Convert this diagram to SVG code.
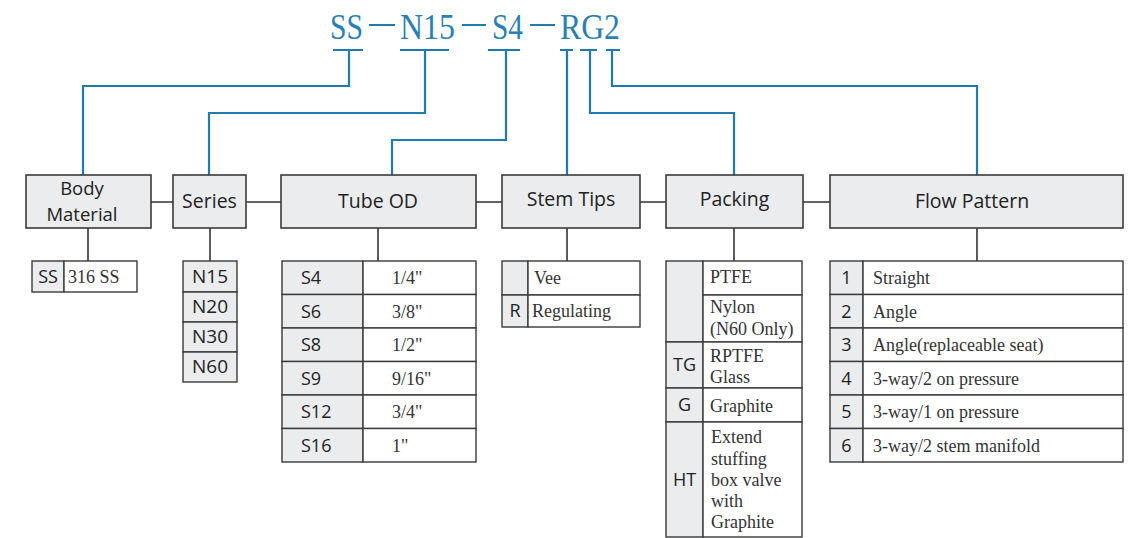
<svg xmlns="http://www.w3.org/2000/svg" width="1128" height="538" viewBox="0 0 1128 538">
<style>
.ttl{font-family:"Liberation Serif","Times New Roman",serif;font-size:35px;fill:#2a7fb4}
.blue{fill:none;stroke:#1f7aae;stroke-width:2.2}
.blk{fill:none;stroke:#333;stroke-width:1.6}
.hdr{fill:#ebecee;stroke:#3a3a3a;stroke-width:1.6}
.cg{fill:#ebecee;stroke:#3a3a3a;stroke-width:1.4}
.cw{fill:#fff;stroke:#3a3a3a;stroke-width:1.4}
.h{font-family:"Open Sans","Noto Sans",sans-serif;font-size:19.5px;fill:#222;text-anchor:middle}
.s{font-family:"Open Sans","Noto Sans",sans-serif;font-size:18px;fill:#222}
.c{text-anchor:middle}
.r{font-family:"Liberation Serif","Times New Roman",serif;font-size:18px;fill:#333}
</style>
<rect width="1128" height="538" fill="#fff"/>
<g id="title">
<text class="ttl" x="330" y="39" textLength="33" lengthAdjust="spacingAndGlyphs">SS</text>
<text class="ttl" x="400" y="39" textLength="55" lengthAdjust="spacingAndGlyphs">N15</text>
<text class="ttl" x="492" y="39" textLength="31" lengthAdjust="spacingAndGlyphs">S4</text>
<text class="ttl" x="560" y="39" textLength="60" lengthAdjust="spacingAndGlyphs">RG2</text>
<path class="blue" d="M369 25H395M462 25H486M530 25H555"/>
</g>
<g id="connectors">
<path class="blue" d="M333 50H363M400 50H449M488 50H520M560 50H573M580 50H597M606 50H620"/>
<path class="blue" d="M349 50V86H83V175"/>
<path class="blue" d="M425 50V113H209V175"/>
<path class="blue" d="M506 50V140H392V175"/>
<path class="blue" d="M567 50V175"/>
<path class="blue" d="M590 50V113H734V175"/>
<path class="blue" d="M612 50V86H977V175"/>
<path class="blk" d="M151 202H173M246 202H281M476 202H502M640 202H666M803 202H830"/>
<path class="blk" d="M88 228V261M210 228V261M378 228V261M567 228V261M734 228V261M977 228V261"/>
</g>
<g id="body-material">
<rect class="hdr" x="26" y="175" width="125" height="53"/>
<text class="h" x="82" y="195" style="font-size:18.5px">Body</text>
<text class="h" x="82" y="221" style="font-size:18.5px">Material</text>
<rect class="cg" x="32" y="261" width="32" height="31"/>
<rect class="cw" x="64" y="261" width="73" height="31"/>
<text class="s c" x="48" y="283">SS</text>
<text class="r" x="68" y="283">316 SS</text>
</g>
<g id="series">
<rect class="hdr" x="173" y="175" width="73" height="53"/>
<text class="h" x="209.5" y="208">Series</text>
<rect class="cg" x="183" y="261" width="54" height="31"/>
<rect class="cg" x="183" y="292" width="54" height="30"/>
<rect class="cg" x="183" y="322" width="54" height="30"/>
<rect class="cg" x="183" y="352" width="54" height="30"/>
<text class="s c" x="210" y="283" style="font-size:19px">N15</text>
<text class="s c" x="210" y="313" style="font-size:19px">N20</text>
<text class="s c" x="210" y="343" style="font-size:19px">N30</text>
<text class="s c" x="210" y="373" style="font-size:19px">N60</text>
</g>
<g id="tube-od">
<rect class="hdr" x="281" y="175" width="195" height="53"/>
<text class="h" x="378" y="208">Tube OD</text>
<rect class="cg" x="282" y="261" width="81" height="33.5"/><rect class="cw" x="363" y="261" width="113" height="33.5"/>
<rect class="cg" x="282" y="294.5" width="81" height="33.5"/><rect class="cw" x="363" y="294.5" width="113" height="33.5"/>
<rect class="cg" x="282" y="328" width="81" height="33.5"/><rect class="cw" x="363" y="328" width="113" height="33.5"/>
<rect class="cg" x="282" y="361.5" width="81" height="33.5"/><rect class="cw" x="363" y="361.5" width="113" height="33.5"/>
<rect class="cg" x="282" y="395" width="81" height="33.5"/><rect class="cw" x="363" y="395" width="113" height="33.5"/>
<rect class="cg" x="282" y="428.5" width="81" height="33.5"/><rect class="cw" x="363" y="428.5" width="113" height="33.5"/>
<text class="s" x="301" y="284">S4</text><text class="r" x="392" y="284">1/4"</text>
<text class="s" x="301" y="317.5">S6</text><text class="r" x="392" y="317.5">3/8"</text>
<text class="s" x="301" y="351">S8</text><text class="r" x="392" y="351">1/2"</text>
<text class="s" x="301" y="384.5">S9</text><text class="r" x="392" y="384.5">9/16"</text>
<text class="s" x="301" y="418">S12</text><text class="r" x="392" y="418">3/4"</text>
<text class="s" x="301" y="451.5">S16</text><text class="r" x="392" y="451.5">1"</text>
</g>
<g id="stem-tips">
<rect class="hdr" x="502" y="175" width="138" height="53"/>
<text class="h" x="571" y="206">Stem Tips</text>
<rect class="cg" x="502" y="261" width="26" height="34"/><rect class="cw" x="528" y="261" width="112" height="34"/>
<rect class="cg" x="502" y="295" width="26" height="32"/><rect class="cw" x="528" y="295" width="112" height="32"/>
<text class="r" x="534" y="284">Vee</text>
<text class="s c" x="515" y="317">R</text>
<text class="r" x="532" y="317">Regulating</text>
</g>
<g id="packing">
<rect class="hdr" x="666" y="175" width="137" height="53"/>
<text class="h" x="734.5" y="206">Packing</text>
<rect class="cg" x="666" y="261" width="37" height="81"/>
<rect class="cw" x="703" y="261" width="99" height="34"/>
<rect class="cw" x="703" y="295" width="99" height="47"/>
<rect class="cg" x="666" y="342" width="37" height="46"/><rect class="cw" x="703" y="342" width="99" height="46"/>
<rect class="cg" x="666" y="388" width="37" height="34"/><rect class="cw" x="703" y="388" width="99" height="34"/>
<rect class="cg" x="666" y="422" width="37" height="115"/><rect class="cw" x="703" y="422" width="99" height="115"/>
<text class="r" x="710" y="283">PTFE</text>
<text class="r"><tspan x="710" y="313">Nylon</tspan><tspan x="710" y="335">(N60 Only)</tspan></text>
<text class="s c" x="684.5" y="371">TG</text>
<text class="r"><tspan x="710" y="362">RPTFE</tspan><tspan x="710" y="383">Glass</tspan></text>
<text class="s c" x="684.5" y="411">G</text>
<text class="r" x="710" y="412">Graphite</text>
<text class="s c" x="684.5" y="486">HT</text>
<text class="r"><tspan x="711" y="443">Extend</tspan><tspan x="711" y="465">stuffing</tspan><tspan x="711" y="486">box valve</tspan><tspan x="711" y="507">with</tspan><tspan x="711" y="528">Graphite</tspan></text>
</g>
<g id="flow-pattern">
<rect class="hdr" x="830" y="175" width="293" height="53"/>
<text class="h" x="972" y="208">Flow Pattern</text>
<rect class="cg" x="830" y="261" width="33" height="33.5"/><rect class="cw" x="863" y="261" width="260" height="33.5"/>
<rect class="cg" x="830" y="294.5" width="33" height="33.5"/><rect class="cw" x="863" y="294.5" width="260" height="33.5"/>
<rect class="cg" x="830" y="328" width="33" height="33.5"/><rect class="cw" x="863" y="328" width="260" height="33.5"/>
<rect class="cg" x="830" y="361.5" width="33" height="33.5"/><rect class="cw" x="863" y="361.5" width="260" height="33.5"/>
<rect class="cg" x="830" y="395" width="33" height="33.5"/><rect class="cw" x="863" y="395" width="260" height="33.5"/>
<rect class="cg" x="830" y="428.5" width="33" height="33.5"/><rect class="cw" x="863" y="428.5" width="260" height="33.5"/>
<text class="s c" x="846.5" y="284">1</text><text class="r" x="873" y="284">Straight</text>
<text class="s c" x="846.5" y="317.5">2</text><text class="r" x="873" y="317.5">Angle</text>
<text class="s c" x="846.5" y="351">3</text><text class="r" x="873" y="351">Angle(replaceable seat)</text>
<text class="s c" x="846.5" y="384.5">4</text><text class="r" x="873" y="384.5">3-way/2 on pressure</text>
<text class="s c" x="846.5" y="418">5</text><text class="r" x="873" y="418">3-way/1 on pressure</text>
<text class="s c" x="846.5" y="451.5">6</text><text class="r" x="873" y="451.5">3-way/2 stem manifold</text>
</g>
</svg>
